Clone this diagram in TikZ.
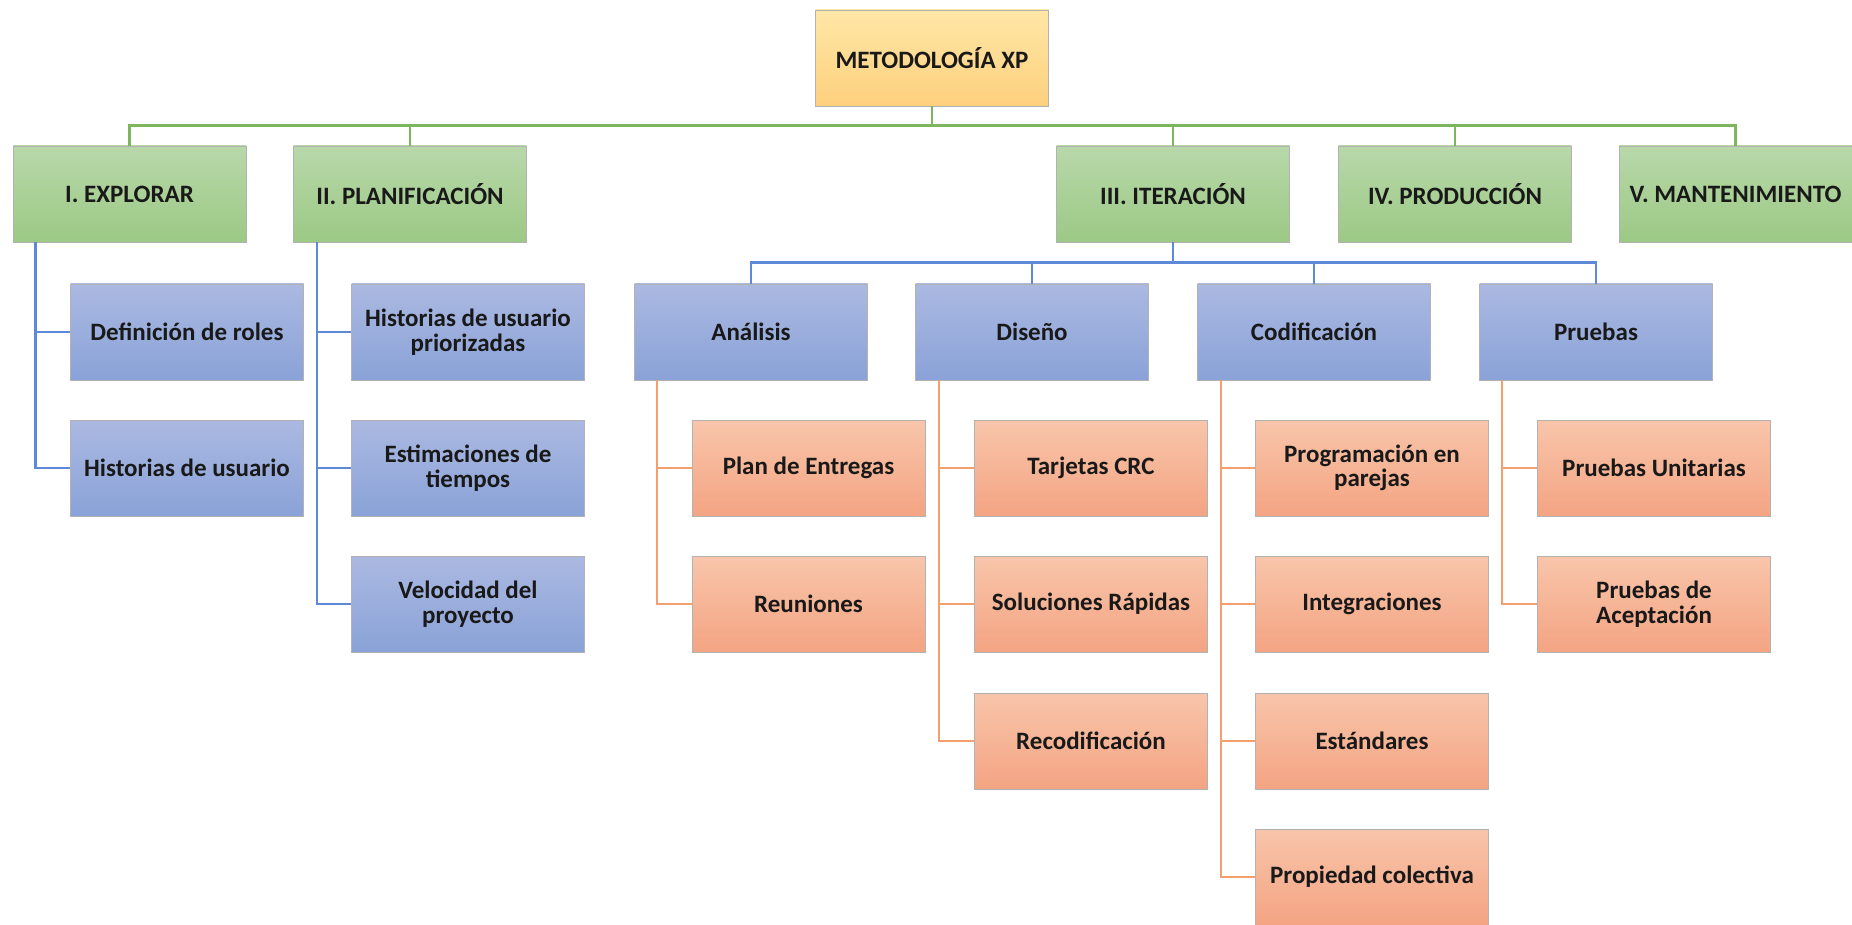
\documentclass[tikz,border=0pt]{standalone}
\usepackage{fontspec}
\setmainfont{Carlito}
\definecolor{topT}{HTML}{FFE7A6}
\definecolor{topB}{HTML}{FDD07E}
\definecolor{gT}{HTML}{B8D8AA}
\definecolor{gB}{HTML}{9CC985}
\definecolor{bT}{HTML}{ABB9E1}
\definecolor{bB}{HTML}{8AA2D8}
\definecolor{oT}{HTML}{F8C5AB}
\definecolor{oB}{HTML}{F4A482}
\definecolor{gL}{HTML}{7DB65C}
\definecolor{bL}{HTML}{5E88D8}
\definecolor{oL}{HTML}{F4A06E}
\tikzset{
  box/.style={draw=black!30, line width=0.8pt, minimum width=233pt, minimum height=96pt,
    align=center, inner sep=2pt, font=\fontsize{25}{24.5}\selectfont\bfseries, text=black!90},
  topbox/.style={box, top color=topT, bottom color=topB},
  grn/.style={box, top color=gT, bottom color=gB},
  blu/.style={box, top color=bT, bottom color=bB},
  org/.style={box, top color=oT, bottom color=oB},
  gline/.style={draw=gL, line width=2.5pt},
  bline/.style={draw=bL, line width=2.5pt},
  oline/.style={draw=oL, line width=2.5pt},
}
\begin{document}
\begin{tikzpicture}[x=1pt,y=-1pt]
\useasboundingbox (0,0) rectangle (1852,925);
% top
\node[topbox] (xp) at (932,58) {METODOLOGÍA XP};
% level 1
\node[grn] (exp) at (129.5,194) {I. EXPLORAR};
\node[grn] (pla) at (410,194) {II. PLANIFICACIÓN};
\node[grn] (ite) at (1173,194) {III. ITERACIÓN};
\node[grn] (pro) at (1455,194) {IV. PRODUCCIÓN};
\node[grn] (man) at (1735.5,194) {V. MANTENIMIENTO};
\foreach \n in {exp,pla,ite,pro,man}
  \draw[gline] (xp.south) -- ++(0,19) -| (\n.north);
% explorar children
\node[blu] (e1) at (187,332) {Definición de roles};
\node[blu] (e2) at (187,468) {Historias de usuario};
\foreach \n in {e1,e2}
  \draw[bline] ([xshift=-94pt]exp.south) |- (\n.west);
% planificacion children
\node[blu] (p1) at (468,332) {Historias de usuario\\priorizadas};
\node[blu] (p2) at (468,468) {Estimaciones de\\tiempos};
\node[blu] (p3) at (468,604) {Velocidad del\\proyecto};
\foreach \n in {p1,p2,p3}
  \draw[bline] ([xshift=-93pt]pla.south) |- (\n.west);
% iteracion children
\node[blu] (an) at (751,332) {Análisis};
\node[blu] (di) at (1032,332) {Diseño};
\node[blu] (co) at (1314,332) {Codificación};
\node[blu] (pr) at (1596,332) {Pruebas};
\foreach \n in {an,di,co,pr}
  \draw[bline] (ite.south) -- ++(0,20) -| (\n.north);
% analisis
\node[org] (a1) at (808.5,468) {Plan de Entregas};
\node[org] (a2) at (808.5,604) {Reuniones};
\foreach \n in {a1,a2}
  \draw[oline] ([xshift=-94pt]an.south) |- (\n.west);
% diseno
\node[org] (d1) at (1091,468) {Tarjetas CRC};
\node[org] (d2) at (1091,604) {Soluciones Rápidas};
\node[org] (d3) at (1091,741) {Recodificación};
\foreach \n in {d1,d2,d3}
  \draw[oline] ([xshift=-93pt]di.south) |- (\n.west);
% codificacion
\node[org] (c1) at (1372,468) {Programación en\\parejas};
\node[org] (c2) at (1372,604) {Integraciones};
\node[org] (c3) at (1372,741) {Estándares};
\node[org] (c4) at (1372,877) {Propiedad colectiva};
\foreach \n in {c1,c2,c3,c4}
  \draw[oline] ([xshift=-93pt]co.south) |- (\n.west);
% pruebas
\node[org] (r1) at (1654,468) {Pruebas Unitarias};
\node[org] (r2) at (1654,604) {Pruebas de\\Aceptación};
\foreach \n in {r1,r2}
  \draw[oline] ([xshift=-94pt]pr.south) |- (\n.west);
\end{tikzpicture}
\end{document}
